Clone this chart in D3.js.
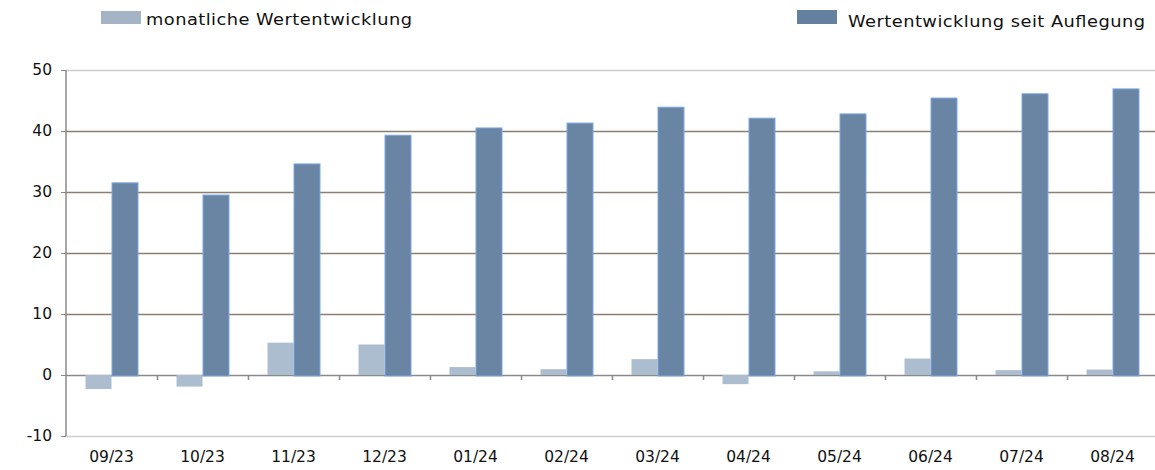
<!DOCTYPE html>
<html><head><meta charset="utf-8">
<script src="https://cdn.jsdelivr.net/npm/d3@7"></script>
<style>body{margin:0;background:#fff;}svg{display:block;font-family:"DejaVu Sans",Verdana,sans-serif;}</style>
</head><body>
<svg id="c" width="1155" height="470"></svg>
<script>
const categories = ["09/23","10/23","11/23","12/23","01/24","02/24","03/24","04/24","05/24","06/24","07/24","08/24"];
const monthly = [-2.3,-1.9,5.3,5.0,1.3,0.95,2.6,-1.5,0.6,2.7,0.8,0.9];
const sinceLaunch = [31.5,29.5,34.6,39.3,40.5,41.3,43.9,42.1,42.8,45.4,46.1,46.9];
const yTicks = [-10,0,10,20,30,40,50];
const seriesNames = ["monatliche Wertentwicklung","Wertentwicklung seit Auflegung"];

(function(){
const svg = d3.select("#c");
const mLeft = 66, mRight = 1158, mTop = 70, mBottom = 436;
const x = d3.scaleBand().domain(categories).range([mLeft, mRight]).paddingInner(0).paddingOuter(0);
const y = d3.scaleLinear().domain([-10, 50]).range([mBottom, mTop]);

// gridlines
svg.append("g").selectAll("line").data(yTicks).join("line")
  .attr("x1", mLeft).attr("x2", 1155)
  .attr("y1", d => Math.round(y(d)) + 0.5).attr("y2", d => Math.round(y(d)) + 0.5)
  .attr("stroke", d => (d === 50 || d === -10) ? "#cdcdcd" : (d === 0 ? "#8a8a8a" : "#8a7f70"))
  .attr("stroke-width", 1.5);

// y axis
const ya = svg.append("g").attr("transform", `translate(${mLeft},0)`)
  .call(d3.axisLeft(y).tickValues(yTicks).tickSize(5).tickPadding(9).tickFormat(d => String(d)));
ya.select(".domain").attr("stroke", "#8a8a8a").attr("stroke-width", 1.5).attr("d", `M0,${y(50)}V${y(-10)}`);
ya.selectAll(".tick line").attr("stroke", "#8a8a8a");
ya.selectAll(".tick text").attr("font-size", 15.5).attr("fill", "#111").attr("font-family", "DejaVu Sans, Verdana, sans-serif");

const bw = 26;
// monthly bars
svg.append("g").selectAll("rect").data(monthly).join("rect")
  .attr("x", (d, i) => x(categories[i]) + x.bandwidth() / 2 - bw)
  .attr("width", bw)
  .attr("y", d => y(Math.max(0, d)))
  .attr("height", d => Math.abs(y(d) - y(0)))
  .attr("fill", "#adbdd0");

// since launch bars
svg.append("g").selectAll("rect").data(sinceLaunch).join("rect")
  .attr("x", (d, i) => x(categories[i]) + x.bandwidth() / 2 + 0.5)
  .attr("width", bw)
  .attr("y", d => y(d))
  .attr("height", d => y(0) - y(d) + 1)
  .attr("fill", "#6a84a3")
  .attr("stroke", "#7ba7e6").attr("stroke-width", 1);

// x ticks at zero line
const xb = categories.slice(1).map(c => x(c));
svg.append("g").selectAll("line").data(xb).join("line")
  .attr("x1", d => Math.round(d) + 0.5).attr("x2", d => Math.round(d) + 0.5)
  .attr("y1", y(0)).attr("y2", y(0) + 5)
  .attr("stroke", "#8a8a8a").attr("stroke-width", 1.5);

// x labels
svg.append("g").selectAll("text").data(categories).join("text")
  .attr("x", d => x(d) + x.bandwidth() / 2)
  .attr("y", 462)
  .attr("text-anchor", "middle")
  .attr("font-size", 15.5).attr("fill", "#111")
  .text(d => d);

// legend
const sx = 1.15;
const lg = svg.append("g");
lg.append("rect").attr("x", 101).attr("y", 11).attr("width", 40).attr("height", 13).attr("fill", "#a5b3c6");
lg.append("text").attr("transform", `translate(146,25) scale(${sx},1)`).attr("font-size", 15.5).attr("fill", "#111")
  .attr("textLength", 266 / sx).attr("lengthAdjust", "spacing").text(seriesNames[0]);
lg.append("rect").attr("x", 797).attr("y", 10).attr("width", 40).attr("height", 14).attr("fill", "#64809f");
lg.append("text").attr("transform", `translate(848,26.5) scale(${sx},1)`).attr("font-size", 15.5).attr("fill", "#111")
  .attr("textLength", 297 / sx).attr("lengthAdjust", "spacing").text(seriesNames[1]);
})();
</script>
</body></html>
